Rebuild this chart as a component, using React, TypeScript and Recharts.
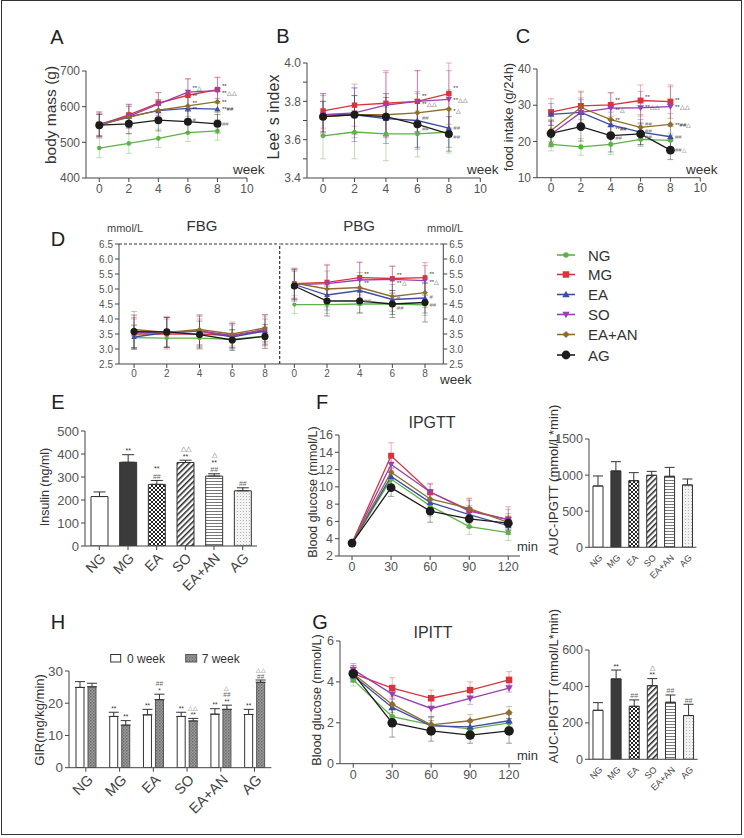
import React from 'react';
import { LineChart, Line, XAxis, YAxis, ErrorBar, BarChart, Bar, Cell, LabelList, ReferenceLine } from 'recharts';

const FONT = '"Liberation Sans", Arial, Helvetica, sans-serif';

const GROUPS = ['NG', 'MG', 'EA', 'SO', 'EA+AN', 'AG'];
const KEYS = ['NG', 'MG', 'EA', 'SO', 'EAAN', 'AG'];
const COLORS = ['#5DB247', '#D9343C', '#3C4DA8', '#9C3EB4', '#8F6D2E', '#1C1C1C'];
const SHAPES = ['circle', 'square', 'triUp', 'triDown', 'diamond', 'bigCircle'];

const weeks = [0, 2, 4, 6, 8];
const minutes = [0, 30, 60, 90, 120];

// A: body mass (g)
const bodyMass = {
  NG: [484, 497, 511, 527, 532],
  MG: [549, 577, 610, 632, 648],
  EA: [548, 572, 589, 595, 593],
  SO: [551, 573, 607, 641, 645],
  EAAN: [549, 570, 590, 602, 614],
  AG: [548, 552, 562, 558, 552],
};
const bodyMassErr = {
  NG: [27, 28, 26, 25, 26], MG: [35, 30, 30, 45, 35], EA: [32, 30, 30, 30, 30],
  SO: [35, 33, 32, 38, 36], EAAN: [30, 30, 30, 30, 30], AG: [30, 28, 30, 30, 26],
};
const bodyMassAnn = {
  MG: ['', '', '', '**', '**'], SO: ['', '', '', '**△', '**△△'], EAAN: ['', '', '', '**', '**'],
  EA: ['', '', '', '**', '**##'], AG: ['', '', '', '#', '##'],
};
const bodyMassAnnDy = {
  MG: [0, 0, 0, 0, -3.5], SO: [0, 0, 0, -4, 2.5], EAAN: [0, 0, 0, -3, 0],
  EA: [0, 0, 0, 0.5, 0], AG: [0, 0, 0, -2, 0],
};

// B: Lee's index
const leeIndex = {
  NG: [3.62, 3.64, 3.63, 3.63, 3.64],
  MG: [3.75, 3.78, 3.79, 3.80, 3.84],
  EA: [3.73, 3.73, 3.71, 3.70, 3.66],
  SO: [3.73, 3.74, 3.78, 3.80, 3.81],
  EAAN: [3.72, 3.73, 3.73, 3.74, 3.76],
  AG: [3.72, 3.73, 3.72, 3.68, 3.63],
};
const leeIndexErr = {
  NG: [0.12, 0.14, 0.14, 0.12, 0.11], MG: [0.09, 0.11, 0.17, 0.16, 0.16], EA: [0.11, 0.14, 0.13, 0.15, 0.1],
  SO: [0.1, 0.13, 0.17, 0.16, 0.15], EAAN: [0.08, 0.1, 0.11, 0.1, 0.1], AG: [0.08, 0.1, 0.1, 0.12, 0.09],
};
const leeIndexAnn = {
  MG: ['', '', '', '**', '**'], SO: ['', '', '', '**△△', '**△△'], EAAN: ['', '', '', '', '*△'],
  EA: ['', '', '', '##', '##'], AG: ['', '', '', '##', '##'],
};
const leeIndexAnnDy = {
  MG: [0, 0, 0, -6, -5.5], SO: [0, 0, 0, 2, 0.5], EAAN: [0, 0, 0, 0, 1.5],
  EA: [0, 0, 0, -3, 0], AG: [0, 0, 0, 4, 3],
};

// C: food intake (g/24h)
const foodIntake = {
  NG: [19.2, 18.5, 19.2, 20.6, 20.3],
  MG: [28.1, 29.8, 30.1, 31.3, 31.0],
  EA: [27.5, 28.0, 24.6, 22.6, 21.3],
  SO: [22.0, 28.0, 29.2, 29.3, 29.6],
  EAAN: [23.0, 29.4, 26.0, 23.9, 24.7],
  AG: [22.2, 24.1, 21.6, 22.1, 17.6],
};
const foodIntakeErr = {
  NG: [1.8, 2.3, 2.8, 2.0, 2.0], MG: [3.7, 3.8, 3.3, 4.3, 4.6], EA: [3, 3.5, 3.5, 3.5, 3],
  SO: [3.5, 4, 4.3, 4.5, 5.5], EAAN: [3, 4.5, 4, 3.5, 3], AG: [3.5, 4, 4.5, 3, 2.6],
};
const foodIntakeAnn = {
  MG: ['', '', '**', '**', '**'], SO: ['', '', '**△', '**△△', '**△△'], EAAN: ['', '', '**', '##', '**##△'],
  EA: ['', '', '**##', '##', '##'], AG: ['', '', '##', '##', '##△'],
};
const foodIntakeAnnDy = {
  MG: [0, 0, -5, -4, -2], SO: [0, 0, 2, -1.5, 0.5], EAAN: [0, 0, 0, -4, 0],
  EA: [0, 0, 3.5, -1, 0], AG: [0, 0, 2, 3, 0],
};

// D: FBG / PBG (mmol/L)
const fbg = {
  NG: [3.38, 3.36, 3.36, 3.32, 3.43],
  MG: [3.5, 3.5, 3.5, 3.45, 3.6],
  EA: [3.4, 3.55, 3.6, 3.4, 3.6],
  SO: [3.55, 3.55, 3.6, 3.45, 3.65],
  EAAN: [3.65, 3.55, 3.65, 3.5, 3.7],
  AG: [3.58, 3.57, 3.48, 3.3, 3.42],
};
const fbgErr = {
  NG: [0.4, 0.3, 0.3, 0.3, 0.3], MG: [0.5, 0.5, 0.5, 0.4, 0.5], EA: [0.4, 0.5, 0.5, 0.4, 0.4],
  SO: [0.5, 0.5, 0.5, 0.4, 0.5], EAAN: [0.6, 0.5, 0.5, 0.4, 0.45], AG: [0.55, 0.5, 0.45, 0.35, 0.4],
};
const pbg = {
  NG: [4.48, 4.48, 4.5, 4.5, 4.47],
  MG: [5.18, 5.22, 5.38, 5.35, 5.38],
  EA: [5.15, 4.8, 4.95, 4.65, 4.7],
  SO: [5.15, 5.18, 5.3, 5.32, 5.28],
  EAAN: [5.2, 5.0, 5.05, 4.75, 4.88],
  AG: [5.1, 4.6, 4.6, 4.5, 4.55],
};
const pbgErr = {
  NG: [0.3, 0.3, 0.3, 0.35, 0.35], MG: [0.5, 0.6, 0.5, 0.4, 0.5], EA: [0.5, 0.5, 0.5, 0.5, 0.5],
  SO: [0.5, 0.6, 0.6, 0.45, 0.5], EAAN: [0.5, 0.6, 0.5, 0.5, 0.5], AG: [0.5, 0.5, 0.4, 0.45, 0.65],
};
const pbgAnn = {
  MG: ['', '', '**', '**', '**'], SO: ['', '', '**', '**△', '**△'],
  EA: ['', '', '', '#', '#'], AG: ['', '', '##', '##', '##'],
};
const pbgAnnDy = {
  MG: [0, 0, -3.5, -4, -3.5], SO: [0, 0, 2.5, 3, 1.5],
  EA: [0, 0, 0, -1.5, -1], AG: [0, 0, 0, 3.5, 2],
};

// F: IPGTT blood glucose (mmol/L)
const ipgtt = {
  NG: [3.5, 10.9, 7.8, 5.4, 4.7],
  MG: [3.5, 13.6, 9.4, 7.3, 6.2],
  EA: [3.5, 11.2, 8.2, 6.8, 5.5],
  SO: [3.5, 12.6, 9.4, 7.2, 6.2],
  EAAN: [3.5, 11.7, 8.6, 7.5, 5.9],
  AG: [3.5, 9.9, 7.2, 6.3, 5.8],
};
const ipgttErr = {
  NG: [0.2, 1.0, 1.2, 0.9, 0.9], MG: [0.2, 1.5, 0.9, 1.3, 1.5], EA: [0.2, 1, 1, 1, 1],
  SO: [0.2, 1.2, 1, 1.2, 1.2], EAAN: [0.2, 1, 1, 1.2, 1], AG: [0.2, 1, 1.3, 1, 0.8],
};

// G: IPITT blood glucose (mmol/L)
const ipitt = {
  NG: [4.1, 2.3, 1.9, 1.7, 2.0],
  MG: [4.4, 3.7, 3.2, 3.6, 4.1],
  EA: [4.3, 2.75, 1.85, 1.8, 2.1],
  SO: [4.6, 3.4, 2.7, 3.2, 3.7],
  EAAN: [4.4, 2.9, 1.9, 2.1, 2.5],
  AG: [4.4, 2.0, 1.6, 1.4, 1.6],
};
const ipittErr = {
  NG: [0.3, 0.4, 0.4, 0.3, 0.4], MG: [0.4, 0.5, 0.4, 0.4, 0.4], EA: [0.3, 0.4, 0.4, 0.3, 0.3],
  SO: [0.3, 0.4, 0.4, 0.3, 0.2], EAAN: [0.4, 0.4, 0.4, 0.3, 0.3], AG: [0.3, 0.7, 0.5, 0.4, 0.6],
};

// E: insulin
const insulin = [215, 364, 268, 363, 304, 240];
const insulinErr = [20, 33, 17, 10, 10, 13];
const insulinAnn = [[], ['**'], ['##', '**'], ['**', '△△'], ['##', '**', '△'], ['##']];

// F right: AUC-IPGTT
const aucGtt = [849, 1057, 923, 997, 983, 863];
const aucGttErr = [139, 129, 111, 55, 124, 83];

// G right: AUC-IPIGTT
const aucItt = [269, 441, 291, 404, 313, 240];
const aucIttErr = [42, 49, 35, 39, 40, 62];
const aucIttAnn = [[], ['**'], ['##'], ['**', '△'], ['##'], ['##']];

// H: GIR
const gir0 = [24.9, 15.9, 16.4, 15.9, 16.6, 16.5];
const gir0Err = [1.8, 1.3, 1.7, 1.3, 1.7, 1.6];
const gir7 = [25.1, 13.2, 21.1, 14.5, 18.1, 26.5];
const gir7Err = [1.1, 1.4, 1.7, 0.8, 1.3, 0.7];
const gir0Ann = [[], ['**'], ['**'], ['**'], ['**'], ['**']];
const gir7Ann = [[], ['**'], ['*', '##'], ['**', '△△'], ['**', '##', '△'], ['##', '△△']];

// ---------- helpers ----------
function marker(kind: string, cx: number, cy: number, s: number, color: string) {
  switch (kind) {
    case 'circle':
      return <circle cx={cx} cy={cy} r={2.3 * s} fill={color} stroke="none" />;
    case 'square': {
      const h = 2.7 * s;
      return <rect x={cx - h} y={cy - h} width={2 * h} height={2 * h} fill={color} stroke="none" />;
    }
    case 'triUp': {
      const h = 3.1 * s;
      return <polygon points={`${cx},${cy - h} ${cx - h},${cy + h * 0.75} ${cx + h},${cy + h * 0.75}`} fill={color} stroke="none" />;
    }
    case 'triDown': {
      const h = 3.1 * s;
      return <polygon points={`${cx},${cy + h} ${cx - h},${cy - h * 0.75} ${cx + h},${cy - h * 0.75}`} fill={color} stroke="none" />;
    }
    case 'diamond': {
      const h = 3 * s;
      return <polygon points={`${cx},${cy - h} ${cx + h},${cy} ${cx},${cy + h} ${cx - h},${cy}`} fill={color} stroke="none" />;
    }
    default:
      return <circle cx={cx} cy={cy} r={4 * s} fill={color} stroke="none" />;
  }
}

function LinePanel(props: any) {
  const {
    rect, xs, xDomain, xTicks, yDomain, yTicks, yFmt, vals, errs, ann = {}, annDy = {}, s = 1, fs = 12,
    yw = 34, right = false, xh = 20, annFs = 6, capW = 3, extra = null, lw = 1.3,
  } = props;
  const rows = xs.map((x: number, i: number) => {
    const r: any = { x };
    KEYS.forEach((k) => {
      r[k] = vals[k][i];
      r[k + '_e'] = errs[k][i];
    });
    return r;
  });
  const mt = 8;
  const plotW = rect.x1 - rect.x0;
  const plotH = rect.y1 - rect.y0;
  const margin = right ? { top: mt, right: 8, bottom: 0, left: 2 } : { top: mt, right: 8, bottom: 0, left: 0 };
  const left = right ? rect.x0 - 2 : rect.x0 - yw;
  const width = right ? 2 + plotW + yw + 8 : yw + plotW + 8;
  const height = mt + plotH + xh;
  return (
    <div style={{ position: 'absolute', left, top: rect.y0 - mt }}>
      <LineChart width={width} height={height} data={rows} margin={margin}>
        <XAxis
          type="number" dataKey="x" domain={xDomain} ticks={xTicks} allowDataOverflow interval={0}
          height={xh} stroke="#444" tickSize={4} tickMargin={2} tick={{ fontSize: fs, fill: '#555' }}
        />
        <YAxis
          type="number" domain={yDomain} ticks={yTicks} allowDataOverflow interval={0}
          orientation={right ? 'right' : 'left'} width={yw} stroke="#444" tickSize={4} tickMargin={2}
          tick={{ fontSize: fs, fill: '#555' }} tickFormatter={yFmt}
        />
        {extra}
        {KEYS.map((k, gi) => (
          <Line
            key={k}
            dataKey={k}
            type="linear"
            stroke={COLORS[gi]}
            strokeWidth={lw}
            isAnimationActive={false}
            activeDot={false}
            dot={(p: any) => {
              const t = ann[k] ? ann[k][p.index] : '';
              const d = annDy[k] ? annDy[k][p.index] : 0;
              return (
                <g key={`${k}-${p.index}`}>
                  {p.cx != null && p.cy != null ? marker(SHAPES[gi], p.cx, p.cy, s, COLORS[gi]) : null}
                  {t ? (
                    <text x={p.cx + 4.5} y={p.cy + 2.3 + d} fontSize={annFs} fill={t.startsWith('#') ? '#777' : '#333'} stroke="none">{t}</text>
                  ) : null}
                </g>
              );
            }}
          >
            <ErrorBar dataKey={k + '_e'} direction="y" stroke={COLORS[gi]} strokeOpacity={0.5} strokeWidth={0.8} width={capW} />
          </Line>
        ))}
      </LineChart>
    </div>
  );
}

function patternDefs(pid: string) {
  return (
    <defs>
      <pattern id={`${pid}-check`} width="4" height="4" patternUnits="userSpaceOnUse">
        <rect width="4" height="4" fill="#fff" />
        <rect width="2" height="2" fill="#222" />
        <rect x="2" y="2" width="2" height="2" fill="#222" />
      </pattern>
      <pattern id={`${pid}-diag`} width="4" height="4" patternUnits="userSpaceOnUse" patternTransform="rotate(45)">
        <rect width="4" height="4" fill="#fff" />
        <line x1="0.8" y1="0" x2="0.8" y2="4" stroke="#222" strokeWidth="1.5" />
      </pattern>
      <pattern id={`${pid}-horiz`} width="4" height="3" patternUnits="userSpaceOnUse">
        <rect width="4" height="3" fill="#fff" />
        <line x1="0" y1="1.5" x2="4" y2="1.5" stroke="#777" strokeWidth="1" />
      </pattern>
      <pattern id={`${pid}-dots`} width="3" height="3" patternUnits="userSpaceOnUse">
        <rect width="3" height="3" fill="#f3f3f3" />
        <circle cx="1.5" cy="1.5" r="0.6" fill="#aaa" />
      </pattern>
      <pattern id={`${pid}-gray`} width="3" height="3" patternUnits="userSpaceOnUse">
        <rect width="3" height="3" fill="#9a9a9a" />
        <rect width="1.5" height="1.5" fill="#6e6e6e" />
        <rect x="1.5" y="1.5" width="1.5" height="1.5" fill="#7e7e7e" />
      </pattern>
    </defs>
  );
}

function groupFills(pid: string) {
  return ['#ffffff', '#3b3b3b', `url(#${pid}-check)`, `url(#${pid}-diag)`, `url(#${pid}-horiz)`, `url(#${pid}-dots)`];
}

const rotTick = (fs: number, dx: number, dy: number) => (p: any) => {
  const { x, y, payload } = p;
  const tx = x + dx;
  const ty = y + dy;
  return (
    <text x={tx} y={ty} transform={`rotate(-45 ${tx} ${ty})`} textAnchor="end" fontSize={fs} fill="#444" stroke="none">
      {payload.value}
    </text>
  );
};

const annLabel = (vals: number[], errs: number[], ann: string[][], fs: number, lh: number, gap: number) => (p: any) => {
  const { x, y, width, height, index } = p;
  const lines = ann[index] || [];
  if (!lines.length) return null;
  const v = vals[index];
  const errTop = Number(y) - errs[index] * (Number(height) / v);
  const cx = Number(x) + Number(width) / 2;
  return (
    <g key={`ann-${index}-${cx}`}>
      {lines.map((t, k) => (
        <text key={k} x={cx} y={errTop - gap - k * lh} textAnchor="middle" fontSize={fs} stroke="none" fill={t.startsWith('#') || t.startsWith('△') ? '#666' : '#333'}>
          {t}
        </text>
      ))}
    </g>
  );
};

function BarPanel(props: any) {
  const {
    rect, vals, errs, ann = null, yDomain, yTicks, fs = 12, xfs = 12, barSize = 12, yw = 36, xh = 40,
    pid, dx = 6, dy = 8, tickLine = true, annFs = 8, annLh = 7, capW = 6,
  } = props;
  const rows = GROUPS.map((g, i) => ({ name: g, v: vals[i], e: [0, errs[i]] }));
  const mt = 8;
  const plotW = rect.x1 - rect.x0;
  const plotH = rect.y1 - rect.y0;
  const fills = groupFills(pid);
  return (
    <div style={{ position: 'absolute', left: rect.x0 - yw, top: rect.y0 - mt }}>
      <BarChart width={yw + plotW + 4} height={mt + plotH + xh} data={rows} margin={{ top: mt, right: 4, bottom: 0, left: 0 }}>
        {patternDefs(pid)}
        <XAxis
          dataKey="name" type="category" interval={0} height={xh} stroke="#444" tickSize={4} tickMargin={0}
          tickLine={tickLine} tick={rotTick(xfs, dx, dy)}
        />
        <YAxis
          type="number" domain={yDomain} ticks={yTicks} allowDataOverflow interval={0} width={yw}
          stroke="#444" tickSize={4} tickMargin={2} tick={{ fontSize: fs, fill: '#555' }}
        />
        <Bar dataKey="v" barSize={barSize} stroke="#333" strokeWidth={1} isAnimationActive={false}>
          {rows.map((r, i) => (
            <Cell key={r.name} fill={fills[i]} />
          ))}
          <ErrorBar dataKey="e" direction="y" stroke="#333" strokeWidth={1} width={capW} />
          {ann ? <LabelList dataKey="v" content={annLabel(vals, errs, ann, annFs, annLh, 1.5)} /> : null}
        </Bar>
      </BarChart>
    </div>
  );
}

function GirPanel() {
  const rect = { x0: 69.3, y0: 671, x1: 271.7, y1: 767.7 };
  const yw = 30;
  const xh = 50;
  const mt = 8;
  const rows = GROUPS.map((g, i) => ({ name: g, w0: gir0[i], w0e: [0, gir0Err[i]], w7: gir7[i], w7e: [0, gir7Err[i]] }));
  return (
    <div style={{ position: 'absolute', left: rect.x0 - yw, top: rect.y0 - mt }}>
      <BarChart
        width={yw + (rect.x1 - rect.x0) + 4} height={mt + (rect.y1 - rect.y0) + xh} data={rows}
        margin={{ top: mt, right: 4, bottom: 0, left: 0 }} barGap={4}
      >
        {patternDefs('h')}
        <XAxis dataKey="name" type="category" interval={0} height={xh} stroke="#444" tickSize={4} tickMargin={0} tick={rotTick(14.5, 8, 9)} />
        <YAxis
          type="number" domain={[0, 30]} ticks={[0, 10, 20, 30]} allowDataOverflow interval={0} width={yw}
          stroke="#444" tickSize={4} tickMargin={2} tick={{ fontSize: 13.5, fill: '#555' }}
        />
        <Bar dataKey="w0" barSize={8} fill="#ffffff" stroke="#333" strokeWidth={1} isAnimationActive={false}>
          <ErrorBar dataKey="w0e" direction="y" stroke="#333" strokeWidth={1} width={5} />
          <LabelList dataKey="w0" content={annLabel(gir0, gir0Err, gir0Ann, 6.5, 7, 1.5)} />
        </Bar>
        <Bar dataKey="w7" barSize={8} fill="url(#h-gray)" stroke="#555" strokeWidth={1} isAnimationActive={false}>
          <ErrorBar dataKey="w7e" direction="y" stroke="#333" strokeWidth={1} width={5} />
          <LabelList dataKey="w7" content={annLabel(gir7, gir7Err, gir7Ann, 6.5, 7, 1.5)} />
        </Bar>
      </BarChart>
    </div>
  );
}

function T({ x, y, s = 12, c = '#333', a = 'middle', r = 0, children }: any) {
  return (
    <text
      x={x} y={y} fontSize={s} fill={c} textAnchor={a}
      dominantBaseline={r ? 'central' : undefined}
      transform={r ? `rotate(${r} ${x} ${y})` : undefined}
    >
      {children}
    </text>
  );
}

function Overlay() {
  const legendY = [255, 274.5, 294.5, 314.5, 334.5, 355];
  return (
    <svg width={744} height={838} style={{ position: 'absolute', left: 0, top: 0, pointerEvents: 'none' }} fontFamily={FONT}>
      {/* panel letters */}
      <T x={57} y={44} s={20} c="#222">A</T>
      <T x={283} y={43} s={20} c="#222">B</T>
      <T x={523} y={43} s={20} c="#222">C</T>
      <T x={58} y={246} s={20} c="#222">D</T>
      <T x={58} y={409} s={20} c="#222">E</T>
      <T x={322} y={409} s={20} c="#222">F</T>
      <T x={58} y={629} s={20} c="#222">H</T>
      <T x={320} y={629} s={20} c="#222">G</T>

      {/* axis titles */}
      <T x={50} y={115} s={15.5} r={-90}>body mass (g)</T>
      <T x={273} y={117} s={16} r={-90}>Lee’ s index</T>
      <T x={508} y={117} s={13} r={-90}>food intake (g/24h)</T>
      <T x={45} y={487} s={12.5} r={-90}>Insulin (ng/ml)</T>
      <T x={313} y={492} s={12.5} r={-90}>Blood glucose (mmol/L)</T>
      <T x={553} y={480} s={13} r={-90}>AUC-IPGTT (mmol/L*min)</T>
      <T x={39} y={720} s={13} r={-90}>GIR(mg/kg/min)</T>
      <T x={317} y={700} s={12.5} r={-90}>Blood glucose (mmol/L)</T>
      <T x={553} y={686} s={13} r={-90}>AUC-IPIGTT (mmol/L*min)</T>

      {/* x titles */}
      <T x={233} y={174} s={13.5} a="start">week</T>
      <T x={467} y={174} s={13.5} a="start">week</T>
      <T x={686} y={174} s={13.5} a="start">week</T>
      <T x={440} y={384} s={13.5} a="start">week</T>
      <T x={517} y={551} s={13} a="start">min</T>
      <T x={517} y={760} s={13} a="start">min</T>

      {/* D headers */}
      <T x={125} y={232} s={11} c="#444">mmol/L</T>
      <T x={445} y={232} s={11} c="#444">mmol/L</T>
      <T x={202} y={231} s={15}>FBG</T>
      <T x={359} y={231} s={15}>PBG</T>

      {/* F/G titles */}
      <T x={432} y={428} s={16}>IPGTT</T>
      <T x={433} y={638} s={16}>IPITT</T>

      {/* legend for line panels */}
      {GROUPS.map((g, i) => (
        <g key={g}>
          <line x1={557} x2={575} y1={legendY[i]} y2={legendY[i]} stroke={COLORS[i]} strokeWidth={1.6} />
          {marker(SHAPES[i], 566, legendY[i], i === 5 ? 1.1 : 1.2, COLORS[i])}
          <T x={588} y={legendY[i] + 5.5} s={15} a="start">{g}</T>
        </g>
      ))}

      {/* H legend */}
      <defs>
        <pattern id="leg-gray" width="3" height="3" patternUnits="userSpaceOnUse">
          <rect width="3" height="3" fill="#9a9a9a" />
          <rect width="1.5" height="1.5" fill="#6e6e6e" />
          <rect x="1.5" y="1.5" width="1.5" height="1.5" fill="#7e7e7e" />
        </pattern>
      </defs>
      <rect x={110.7} y={654.5} width={10} height={7.5} fill="#fff" stroke="#333" strokeWidth={1} />
      <T x={127} y={662.5} s={12} a="start">0 week</T>
      <rect x={185.7} y={654.5} width={11} height={7.5} fill="url(#leg-gray)" stroke="#555" strokeWidth={1} />
      <T x={201.7} y={662.5} s={12} a="start">7 week</T>
    </svg>
  );
}

export default function App() {
  const fmt1 = (v: number) => v.toFixed(1);
  const leeFmt = (v: number) => (Math.round(v * 10) % 2 === 0 ? v.toFixed(1) : '');
  return (
    <div style={{ position: 'absolute', left: 0, top: 0, width: 744, height: 838, background: '#fff', fontFamily: FONT, overflow: 'hidden' }}>
      <div style={{ position: 'absolute', left: 1, top: 0, width: 741, height: 835, border: '1.5px solid #333', boxSizing: 'border-box' }} />

      {/* A */}
      <LinePanel
        rect={{ x0: 86, y0: 71, x1: 247, y1: 178 }} xs={weeks} xDomain={[-0.9, 10]} xTicks={[0, 2, 4, 6, 8, 10]}
        yDomain={[400, 700]} yTicks={[400, 500, 600, 700]} vals={bodyMass} errs={bodyMassErr}
        ann={bodyMassAnn} annDy={bodyMassAnnDy} yw={34} fs={12} s={1}
      />
      {/* B */}
      <LinePanel
        rect={{ x0: 306.7, y0: 62.7, x1: 480, y1: 177.7 }} xs={weeks} xDomain={[-1.02, 10]} xTicks={[0, 2, 4, 6, 8, 10]}
        yDomain={[3.4, 4.0]} yTicks={[3.4, 3.5, 3.6, 3.7, 3.8, 3.9, 4.0]} yFmt={leeFmt}
        vals={leeIndex} errs={leeIndexErr} ann={leeIndexAnn} annDy={leeIndexAnnDy} yw={30} fs={12} s={1}
      />
      {/* C */}
      <LinePanel
        rect={{ x0: 536.7, y0: 69, x1: 700, y1: 177.7 }} xs={weeks} xDomain={[-0.94, 10]} xTicks={[0, 2, 4, 6, 8, 10]}
        yDomain={[10, 40]} yTicks={[10, 20, 30, 40]} vals={foodIntake} errs={foodIntakeErr}
        ann={foodIntakeAnn} annDy={foodIntakeAnnDy} yw={24} fs={12} s={1.1}
      />
      {/* D left: FBG */}
      <LinePanel
        rect={{ x0: 119.3, y0: 244, x1: 280, y1: 364 }} xs={weeks} xDomain={[-0.92, 8.9]} xTicks={[0, 2, 4, 6, 8]}
        yDomain={[2.5, 6.5]} yTicks={[2.5, 3, 3.5, 4, 4.5, 5, 5.5, 6, 6.5]} yFmt={fmt1}
        vals={fbg} errs={fbgErr} yw={26} fs={10} s={0.9} xh={18}
        extra={[
          <ReferenceLine key="t" y={6.5} stroke="#333" strokeDasharray="3 2" strokeWidth={1.2} ifOverflow="visible" />,
          <ReferenceLine key="v" x={8.9} stroke="#333" strokeDasharray="3 2" strokeWidth={1.2} ifOverflow="visible" />,
        ]}
      />
      {/* D right: PBG */}
      <LinePanel
        rect={{ x0: 280, y0: 244, x1: 443.3, y1: 364 }} xs={weeks} xDomain={[-0.88, 9.12]} xTicks={[0, 2, 4, 6, 8]}
        yDomain={[2.5, 6.5]} yTicks={[2.5, 3, 3.5, 4, 4.5, 5, 5.5, 6, 6.5]} yFmt={fmt1}
        vals={pbg} errs={pbgErr} ann={pbgAnn} annDy={pbgAnnDy} yw={26} fs={10} s={0.9} xh={18} right
        extra={[<ReferenceLine key="t" y={6.5} stroke="#333" strokeDasharray="3 2" strokeWidth={1.2} ifOverflow="visible" />]}
      />

      {/* E */}
      <BarPanel
        rect={{ x0: 85, y0: 431, x1: 257, y1: 546 }} vals={insulin} errs={insulinErr} ann={insulinAnn}
        yDomain={[0, 500]} yTicks={[0, 100, 200, 300, 400, 500]} fs={13} xfs={14} barSize={17} yw={32} xh={50}
        pid="e" dx={7} dy={9} annFs={7} annLh={7.5}
      />

      {/* F line */}
      <LinePanel
        rect={{ x0: 339, y0: 435, x1: 520, y1: 556 }} xs={minutes} xDomain={[-10, 129]} xTicks={[0, 30, 60, 90, 120]}
        yDomain={[2, 16]} yTicks={[2, 4, 6, 8, 10, 12, 14, 16]} vals={ipgtt} errs={ipgttErr}
        yw={24} fs={12.5} s={1.1} xh={20}
      />
      {/* F bar */}
      <BarPanel
        rect={{ x0: 589.3, y0: 439, x1: 696.7, y1: 547.3 }} vals={aucGtt} errs={aucGttErr}
        yDomain={[0, 1500]} yTicks={[0, 500, 1000, 1500]} fs={12.5} xfs={9} barSize={10} yw={34} xh={40}
        pid="fb" dx={5} dy={7} tickLine={false} capW={5}
      />

      {/* H */}
      <GirPanel />

      {/* G line */}
      <LinePanel
        rect={{ x0: 340, y0: 641.3, x1: 521, y1: 764 }} xs={minutes} xDomain={[-10.2, 129.2]} xTicks={[0, 30, 60, 90, 120]}
        yDomain={[0, 6]} yTicks={[0, 2, 4, 6]} vals={ipitt} errs={ipittErr}
        yw={24} fs={12.5} s={1.2} xh={20}
      />
      {/* G bar */}
      <BarPanel
        rect={{ x0: 589.3, y0: 650, x1: 698, y1: 759.3 }} vals={aucItt} errs={aucIttErr} ann={aucIttAnn}
        yDomain={[0, 600]} yTicks={[0, 200, 400, 600]} fs={12.5} xfs={9} barSize={10} yw={30} xh={40}
        pid="gb" dx={5} dy={7} tickLine={false} capW={5} annFs={7} annLh={7.5}
      />

      <Overlay />
    </div>
  );
}
